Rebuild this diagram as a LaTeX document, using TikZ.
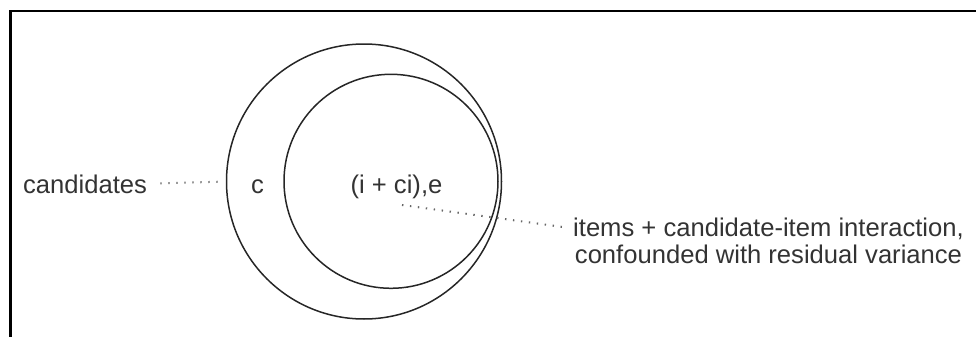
\documentclass[tikz,border=0pt]{standalone}
\usepackage{fontspec}
\setmainfont{Liberation Sans}
\usepackage{xcolor}
\usetikzlibrary{positioning}

\definecolor{inkgray}{HTML}{333333}

\begin{document}
\begin{tikzpicture}[x=0.5pt,y=-0.5pt,
    lbl/.style={font=\fontsize{12.8}{13.5}\selectfont, text=inkgray, inner sep=0pt, anchor=base},
    ring/.style={draw=black!85, line width=0.75pt, circle, inner sep=0pt},
    leader/.style={draw=black!60, line width=1pt, dash pattern=on 0.7pt off 3.3pt}]
\useasboundingbox (0,0) rectangle (976,337);

% Frame (only top and left show)
\draw[line width=1.1pt] (10.5,337) -- (10.5,11) -- (976,11);

% Circles
\node[ring, minimum size=137.5pt] (candcirc) at (364,181.5) {};
\node[ring, minimum size=107pt] (itemcirc) at (391,181.3) {};

% Labels
\node[lbl, anchor=base west] (cand) at (22.7,193) {candidates};
\node[lbl] (clbl) at (257.5,193) {c};
\node[lbl] (ilbl) at (396.5,193) {(i + ci),e};
\node[lbl] (items) at (768.5,236) {items + candidate-item interaction,};
\node[lbl] (conf) at (768.5,263) {confounded with residual variance};

% Leaders
\coordinate (itemtip) at (402,205);
\draw[leader, shorten <=6.5pt, shorten >=4pt] (cand.east) -- (candcirc.west);
\draw[leader, shorten >=5.5pt] (itemtip) -- (items.west);
\end{tikzpicture}
\end{document}
